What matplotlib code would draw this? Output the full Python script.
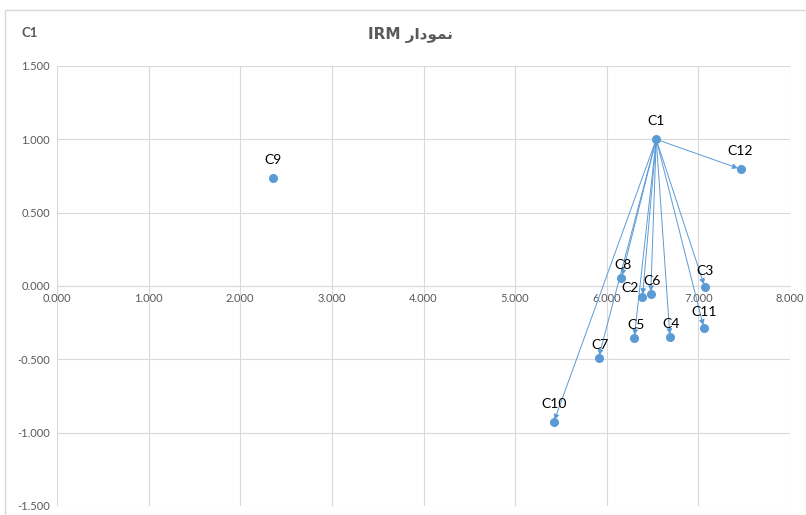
import matplotlib
matplotlib.use("Agg")
import matplotlib.pyplot as plt
from matplotlib.patches import Rectangle

# data
names = ["C1", "C2", "C3", "C4", "C5", "C6", "C7", "C8", "C9", "C10", "C11", "C12"]
xs = [6.54, 6.39, 7.07, 6.69, 6.30, 6.48, 5.91, 6.16, 2.36, 5.42, 7.06, 7.46]
ys = [1.00, -0.075, -0.007, -0.348, -0.354, -0.055, -0.49, 0.055, 0.736, -0.93, -0.286, 0.797]
# arrows start at C1
targets = ["C2", "C3", "C4", "C5", "C6", "C7", "C8", "C10", "C11", "C12"]
xticks = [0, 1, 2, 3, 4, 5, 6, 7, 8]
yticks = [-1.5, -1.0, -0.5, 0.0, 0.5, 1.0, 1.5]

blue = "#5B9BD5"
grey = "#595959"
plt.rcParams['font.family'] = ['Lato', 'DejaVu Sans']

fig = plt.figure(figsize=(8.06, 5.15), dpi=100)
fig.patches.append(Rectangle((0.006, -0.01), 1.0, 0.99, transform=fig.transFigure,
                             fill=False, ec="#d9d9d9", lw=1))
ax = fig.add_axes([57 / 806, 9 / 515, 733 / 806, 440 / 515])

ax.set_xlim(0, 8)
ax.set_ylim(-1.5, 1.5)
ax.set_xticks(xticks)
ax.set_yticks(yticks)
ax.set_xticklabels(["%.3f" % v for v in xticks])
ax.set_yticklabels(["%.3f" % v for v in yticks])
ax.grid(True, color="#d9d9d9", lw=0.8)
ax.set_axisbelow(True)
for s in ["top", "right"]:
    ax.spines[s].set_visible(False)
ax.spines["bottom"].set_position(("data", 0))
ax.spines["left"].set_visible(False)
ax.spines["bottom"].set_color("#d9d9d9")
ax.tick_params(length=0, labelsize=8, colors=grey, pad=5)

pos = dict(zip(names, zip(xs, ys)))
x1, y1 = pos["C1"]
for n in targets:
    ax.annotate("", xy=pos[n], xytext=(x1, y1),
                arrowprops=dict(arrowstyle="-|>", color=blue, lw=0.7,
                                mutation_scale=8, shrinkA=0, shrinkB=2))

ax.plot(xs, ys, "o", color=blue, ms=5.5, zorder=3)
for n, x, y in zip(names, xs, ys):
    off = (0, 9)
    if n in ("C4", "C5", "C6", "C7", "C8"):
        off = (1, 5)
    elif n in ("C3", "C11"):
        off = (0, 7)
    elif n == "C2":
        off = (-9, 2)
    ax.annotate(n, (x, y), xytext=off, textcoords="offset points",
                ha="center", va="bottom", fontsize=10, color="#000000")

fig.text(30 / 806, 1 - 33 / 515, "C1", ha="center", va="center",
         fontsize=9.5, color=grey, fontweight="bold")
# نمودار IRM (shaped for display)
title = "IRM \ufead\ufe8d\ufea9\ufeee\ufee4\ufee7"
fig.text(410 / 806, 1 - 35 / 515, title, ha="center", va="center",
         fontsize=11, color=grey, fontweight="bold", family=['DejaVu Sans'])

fig.savefig("out.png", dpi=100)
